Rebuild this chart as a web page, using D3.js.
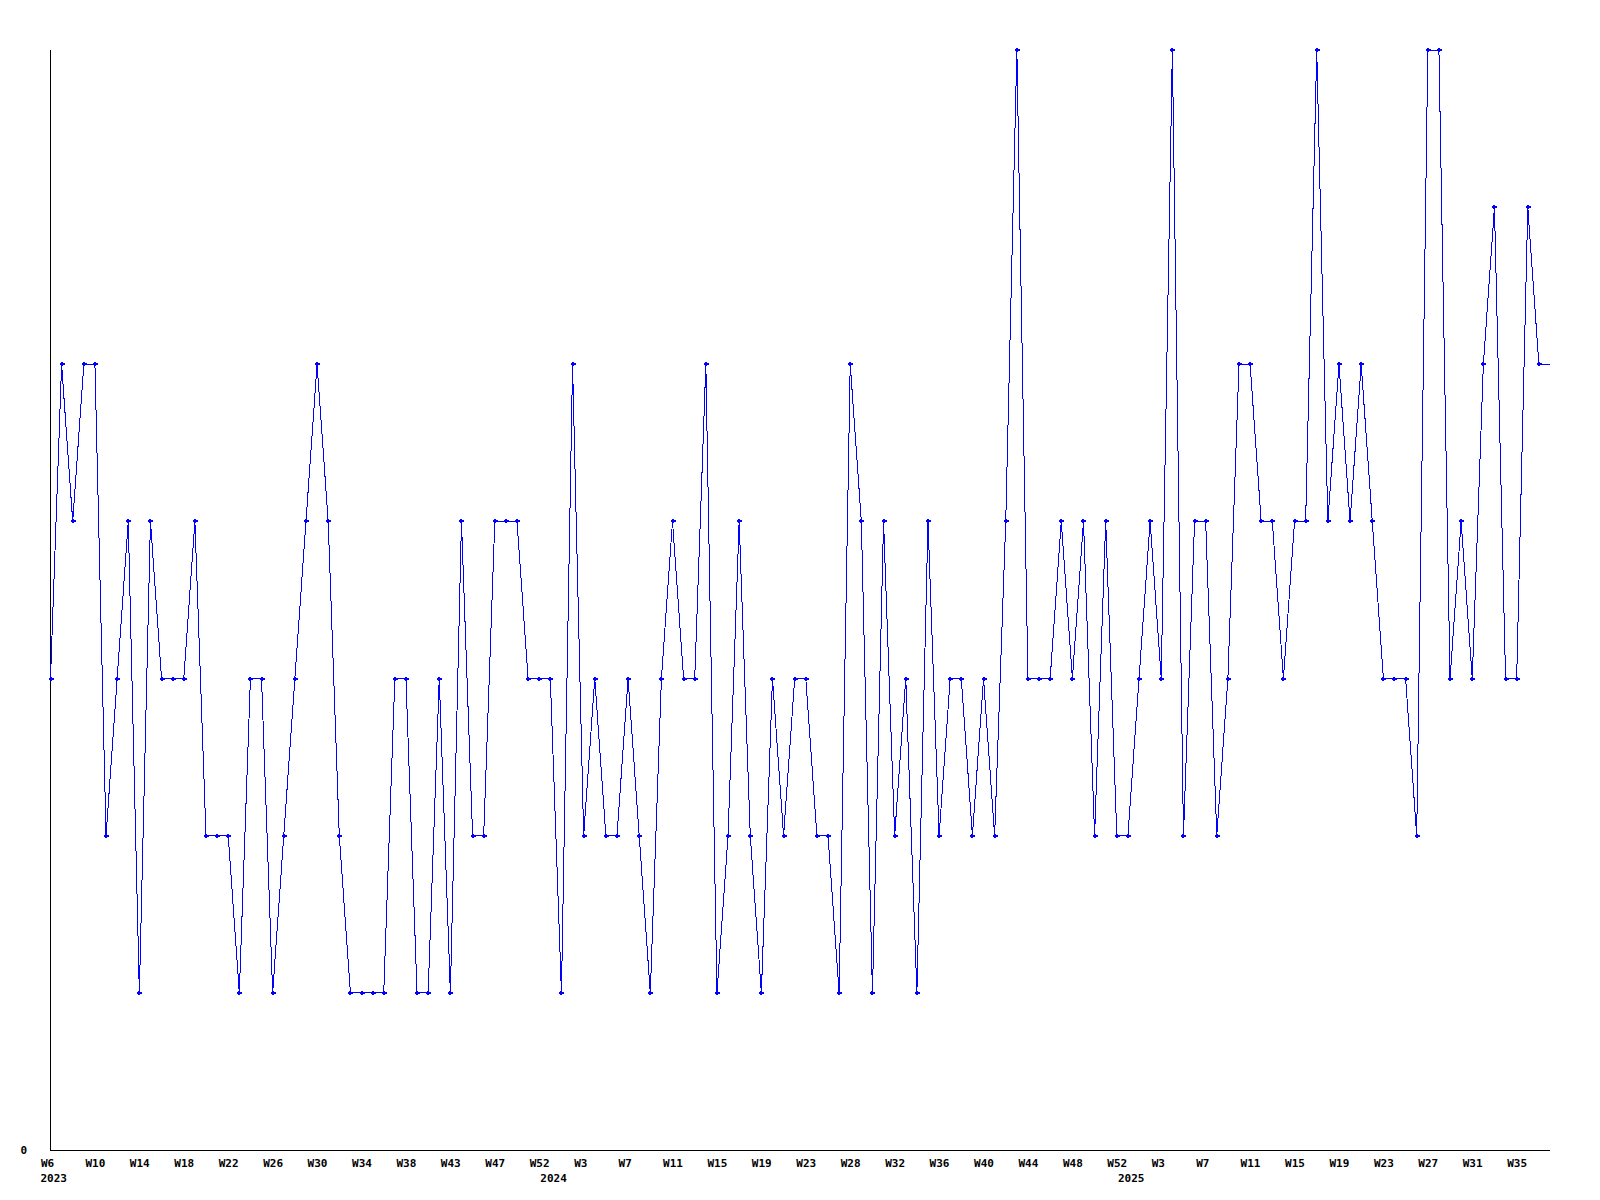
<!DOCTYPE html>
<html>
<head>
<meta charset="utf-8">
<script src="https://cdn.jsdelivr.net/npm/d3@7"></script>
<style>
  html, body { margin: 0; padding: 0; background: #ffffff; }
  svg { display: block; }
  text { font-family: "DejaVu Sans Mono", monospace; font-weight: bold; font-size: 11px; fill: #000; }
</style>
</head>
<body>
<svg id="chart" width="1600" height="1200"></svg>
<script>
// Weekly values, 2023-W06 onward (one per week)
const values = [
  3,5,4,5,5,2,3,4,1,4, 3,3,3,4,2,2,2,1,3,3,
  1,2,3,4,5,4,2,1,1,1, 1,3,3,1,1,3,1,4,2,2,
  4,4,4,3,3,3,1,5,2,3, 2,2,3,2,1,3,4,3,3,5,
  1,2,4,2,1,3,2,3,3,2, 2,1,5,4,1,4,2,3,1,4,
  2,3,3,2,3,2,4,7,3,3, 3,4,3,4,2,4,2,2,3,4,
  3,7,2,4,4,2,3,5,5,4, 4,3,4,4,7,4,5,4,5,4,
  3,3,3,2,7,7,3,4,3,5, 6,3,3,6,5,5
];
// x tick labels (every 4th point)
const tickLabels = ["W6","W10","W14","W18","W22","W26","W30","W34","W38","W43","W47","W52",
  "W3","W7","W11","W15","W19","W23","W28","W32","W36","W40","W44","W48","W52",
  "W3","W7","W11","W15","W19","W23","W27","W31","W35"];
const tickIndex = tickLabels.map((_, i) => i * 4);
// year labels and the point index they sit under
const yearLabels = ["2023","2024","2025"];
const yearIndex = [0, 45, 97];
const yTicks = [0];

const svg = d3.select("#chart");
const x = d3.scaleLinear().domain([0, values.length - 1]).range([50.5, 1550]);
const y = d3.scaleLinear().domain([0, 7]).range([1150, 50]);

// axes
const yAxis = d3.axisLeft(y).tickValues(yTicks).tickSize(0).tickSizeOuter(0).tickFormat(d3.format("d"));
const gy = svg.append("g").attr("transform", "translate(0.5,0)")
  .call(g => g.append("line").attr("x1", 50).attr("x2", 50).attr("y1", 50).attr("y2", 1151)
    .attr("stroke", "#000").attr("shape-rendering", "crispEdges"));
svg.append("g").attr("transform", "translate(50,0)").call(yAxis)
  .call(g => g.select(".domain").remove())
  .call(g => g.selectAll("text").attr("x", -23).attr("dy", "0.32em")
    .attr("font-family", null).attr("font-size", null).style("text-anchor", "end"));

const xAxis = d3.axisBottom(x).tickValues(tickIndex).tickSize(0).tickSizeOuter(0)
  .tickFormat((d, i) => tickLabels[i]);
svg.append("g").attr("transform", "translate(0,1150.5)").call(xAxis)
  .call(g => g.select(".domain").attr("stroke", "#000").attr("shape-rendering", "crispEdges")
    .attr("d", "M50,0H1550"))
  .call(g => g.selectAll("text").attr("font-family", null).attr("font-size", null)
    .attr("y", 16).attr("dy", null).attr("dx", -10).style("text-anchor", "start"));

svg.append("g").selectAll("text").data(yearLabels).join("text")
  .attr("x", (d, i) => x(yearIndex[i]) - 10)
  .attr("y", 1181.5)
  .text(d => d);

// line
const line = d3.line().x((d, i) => x(i)).y(d => y(d));
svg.append("path").datum(values)
  .attr("d", line)
  .attr("fill", "none")
  .attr("stroke", "#0000ff")
  .attr("stroke-width", 1)
  .attr("shape-rendering", "crispEdges");

// markers (last point sits on the plot edge, no marker)
const pts = values.slice(0, values.length - 1);
const mk = svg.append("g").attr("fill", "#0000ff").attr("shape-rendering", "crispEdges");
mk.selectAll("rect.h").data(pts).join("rect").attr("class", "h")
  .attr("x", (d, i) => Math.round(x(i)) - 2).attr("y", d => Math.round(y(d)) - 1)
  .attr("width", 5).attr("height", 2);
mk.selectAll("rect.v").data(pts).join("rect").attr("class", "v")
  .attr("x", (d, i) => Math.round(x(i)) - 1).attr("y", d => Math.round(y(d)) - 2)
  .attr("width", 2).attr("height", 4);
</script>
</body>
</html>
